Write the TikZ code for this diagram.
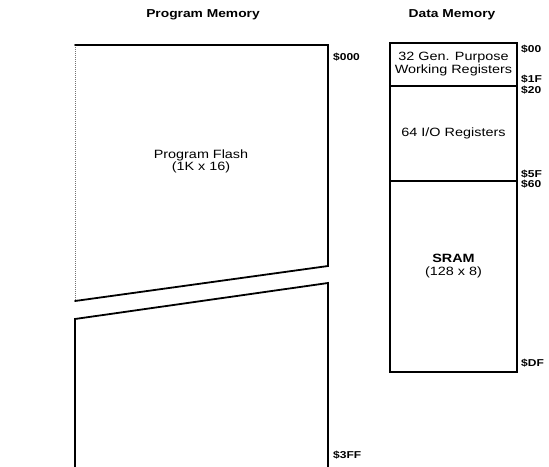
\documentclass[tikz,border=0pt]{standalone}
\usepackage{fontspec}
\setmainfont{Liberation Sans}[FakeStretch=1.2]
\usetikzlibrary{positioning}

\begin{document}
\begin{tikzpicture}[x=1pt, y=-1pt,
    memblock/.style={rectangle, draw, line width=1.8pt, outer sep=0pt, inner sep=0pt, minimum width=127pt, align=center, font=\fontsize{12}{13}\selectfont},
    memtitle/.style={font=\fontsize{11.5}{13}\selectfont\bfseries},
    addr/.style={anchor=west, inner sep=0pt, font=\fontsize{10}{12}\selectfont\bfseries},
    edge/.style={line width=1.8pt, line cap=round},
    thinedge/.style={line width=0.6pt, black!55, dash pattern=on 1pt off 1pt}]
  \useasboundingbox (0,0) rectangle (549,466);
  % titles
  \node[memtitle] (progtitle) at (203,15) {Program Memory};
  \node[memtitle] (datatitle) at (452,15) {Data Memory};
  % program memory, split in two
  \draw[thinedge] (75,45) -- (75,301);
  \draw[edge] (75,45) -- (328,45) -- (328,266) -- (75,301);
  \draw[edge] (75,470) -- (75,319) -- (328,283) -- (328,470);
  \node[align=center, font=\fontsize{12}{12}\selectfont] (flash) at (201,161) {Program Flash\\(1K x 16)};
  \node[addr] (p000) at (333,57) {\$000};
  \node[addr] (p3ff) at (333,455) {\$3FF};
  % data memory
  \node[memblock, minimum height=43pt, anchor=north west] (regs) at (390,43) {32 Gen. Purpose\\Working Registers};
  \node[memblock, minimum height=95pt, below=0pt of regs] (io) {64 I/O Registers};
  \node[memblock, minimum height=191pt, below=0pt of io] (sram) {\textbf{SRAM}\\(128 x 8)\\[10pt]};
  \node[addr] (a00) at (521,49) {\$00};
  \node[addr] (a1f) at (521,79) {\$1F};
  \node[addr] (a20) at (521,90) {\$20};
  \node[addr] (a5f) at (521,174) {\$5F};
  \node[addr] (a60) at (521,184) {\$60};
  \node[addr] (adf) at (521,363) {\$DF};
\end{tikzpicture}
\end{document}
